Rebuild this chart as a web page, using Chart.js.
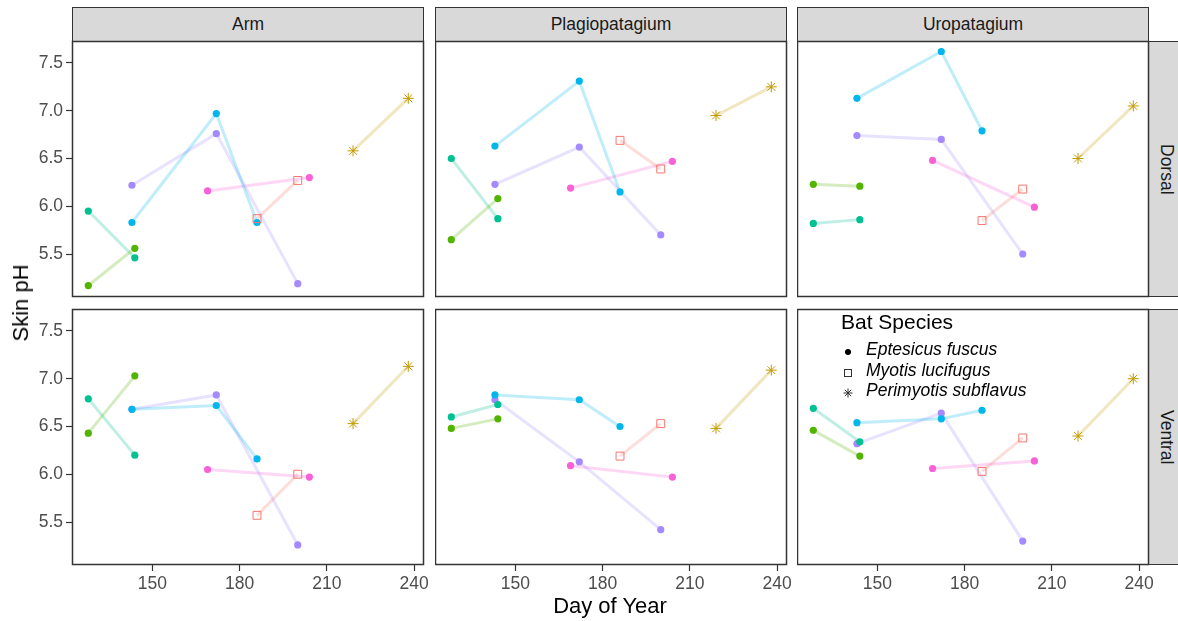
<!DOCTYPE html>
<html>
<head>
<meta charset="utf-8">
<script src="https://cdn.jsdelivr.net/npm/chart.js@4/dist/chart.umd.min.js"></script>
<style>
    body { margin: 0; background: #ffffff; }
    #figure {
        position: relative;
        width: 1178px;
        height: 621px;
        overflow: hidden;
        font-family: "Liberation Sans", Arial, sans-serif;
    }
    #figure canvas { position: absolute; }
    .strip {
        position: absolute;
        box-sizing: border-box;
        background: #d9d9d9;
        border: 1.5px solid #333333;
        color: #1a1a1a;
        font-size: 17.5px;
        display: flex;
        align-items: center;
        justify-content: center;
    }
    .strip.side span { writing-mode: vertical-rl; }
    .label { position: absolute; white-space: nowrap; line-height: 1; }
    .legend-key { position: absolute; }
</style>
</head>
<body>
<div id="figure"></div>
<script>
// facets
const regions = ['Arm', 'Plagiopatagium', 'Uropatagium'];
const surfaces = ['Dorsal', 'Ventral'];

// one entry per bat: id, species, colour and the days it was sampled
const batIds = ['M1', 'P1', 'E1', 'E2', 'E3', 'E4', 'E5'];
const batSpecies = ['Myotis lucifugus', 'Perimyotis subflavus', 'Eptesicus fuscus', 'Eptesicus fuscus',
    'Eptesicus fuscus', 'Eptesicus fuscus', 'Eptesicus fuscus'];
const batColors = ['#F8766D', '#C49A00', '#53B400', '#00C094', '#00B6EB', '#A58AFF', '#FB61D7'];
const batDays = [[186, 200], [219, 238], [128, 144], [128, 144], [143, 172, 186], [143, 172, 200], [169, 204]];

// skin pH per bat (same order as batIds), one list per region x surface
const armDorsal = [[5.87, 6.27], [6.58, 7.13], [5.17, 5.56], [5.95, 5.46], [5.83, 6.97, 5.83], [6.22, 6.76, 5.19], [6.16, 6.30]];
const plagioDorsal = [[6.69, 6.39], [6.95, 7.25], [5.65, 6.08], [6.50, 5.87], [6.63, 7.31, 6.15], [6.23, 6.62, 5.70], [6.19, 6.47]];
const uroDorsal = [[5.85, 6.18], [6.50, 7.05], [6.23, 6.21], [5.82, 5.86], [7.13, 7.62, 6.79], [6.74, 6.70, 5.50], [6.48, 5.99]];
const armVentral = [[5.57, 6.00], [6.53, 7.13], [6.43, 7.03], [6.79, 6.20], [6.68, 6.72, 6.16], [6.68, 6.83, 5.26], [6.05, 5.97]];
const plagioVentral = [[6.19, 6.53], [6.48, 7.09], [6.48, 6.58], [6.60, 6.73], [6.83, 6.78, 6.50], [6.78, 6.13, 5.42], [6.09, 5.97]];
const uroVentral = [[6.03, 6.38], [6.40, 7.00], [6.46, 6.19], [6.69, 6.34], [6.54, 6.58, 6.67], [6.32, 6.64, 5.30], [6.06, 6.14]];

const xTicks = [150, 180, 210, 240];
const yTicks = [5.5, 6.0, 6.5, 7.0, 7.5];
const speciesNames = ['Eptesicus fuscus', 'Myotis lucifugus', 'Perimyotis subflavus'];

const panelValues = [
    [armDorsal, plagioDorsal, uroDorsal],
    [armVentral, plagioVentral, uroVentral]
];

const speciesShape = {
    'Eptesicus fuscus': 'circle',
    'Myotis lucifugus': 'rect',
    'Perimyotis subflavus': 'star'
};

// panel geometry (page pixels)
const colLeft = [72, 435, 797];
const rowTop = [41, 309];
const panelW = 352;
const panelH = 256;
const yAxisW = 72;
const xAxisH = 40;
const padTop = 16;
const padRight = 16;
const padBottom = 14;
const xRange = [122.4, 243.4];
const yRange = [5.05, 7.73];

const fontFamily = '"Liberation Sans", Arial, sans-serif';
const figure = document.getElementById('figure');

function fade(hex, alpha) {
    let n = parseInt(hex.slice(1), 16);
    return 'rgba(' + [(n >> 16) & 255, (n >> 8) & 255, n & 255, alpha].join(', ') + ')';
}

function buildDatasets(values) {
    let datasets = [];
    for (let i = 0; i < batIds.length; i++) {
        let color = batColors[i];
        let shape = speciesShape[batSpecies[i]];
        let radius = 3.6;
        if (shape === 'rect') radius = 5.6;
        if (shape === 'star') radius = 5.5;
        datasets.push({
            label: batIds[i],
            data: batDays[i].map((d, j) => ({x: d, y: values[i][j]})),
            showLine: true,
            borderColor: fade(color, 0.25),
            borderWidth: 3,
            pointStyle: shape,
            pointRadius: radius,
            pointBorderWidth: shape === 'circle' ? 0 : 1,
            pointBorderColor: color,
            pointBackgroundColor: shape === 'rect' ? 'rgba(0,0,0,0)' : color
        });
    }
    return datasets;
}

// ggplot style box around each panel
const panelBorder = {
    id: 'panelBorder',
    afterDraw(chart) {
        let a = chart.chartArea;
        let ctx = chart.ctx;
        ctx.save();
        ctx.strokeStyle = '#333333';
        ctx.lineWidth = 1.5;
        ctx.strokeRect(a.left + 0.5, a.top + 0.5, a.right - a.left - 1, a.bottom - a.top - 1);
        ctx.restore();
    }
};

function axisStyle(show, ticks, range) {
    return {
        type: 'linear',
        display: show,
        min: range[0],
        max: range[1],
        afterBuildTicks: s => { s.ticks = ticks.map(v => ({value: v})); },
        grid: { drawOnChartArea: false, drawTicks: true, tickLength: 6, tickColor: '#333333', tickWidth: 1.2 },
        border: { display: false },
        ticks: {
            color: '#4d4d4d',
            padding: 3,
            maxRotation: 0,
            font: { family: fontFamily, size: 17.5 },
            callback: v => (Number.isInteger(v) && v > 100) ? String(v) : v.toFixed(1)
        }
    };
}

function drawPanel(row, col) {
    let leftW = col === 0 ? yAxisW : 0;
    let bottomH = row === 1 ? xAxisH : 0;
    let canvas = document.createElement('canvas');
    canvas.width = leftW + panelW + padRight;
    canvas.height = padTop + panelH + bottomH + padBottom;
    canvas.style.left = (colLeft[col] - leftW) + 'px';
    canvas.style.top = (rowTop[row] - padTop) + 'px';
    figure.appendChild(canvas);

    // hidden axes still get fitted, so pin them to zero size
    let xScale = axisStyle(row === 1, xTicks, xRange);
    xScale.afterFit = s => { s.height = bottomH; };
    let yScale = axisStyle(col === 0, yTicks, yRange);
    yScale.afterFit = s => { s.width = leftW; };

    return new Chart(canvas, {
        type: 'scatter',
        data: { datasets: buildDatasets(panelValues[row][col]) },
        options: {
            responsive: false,
            animation: false,
            events: [],
            layout: {
                autoPadding: false,
                padding: { top: padTop, right: padRight, bottom: padBottom, left: 0 }
            },
            scales: { x: xScale, y: yScale },
            plugins: { legend: { display: false }, tooltip: { enabled: false } }
        },
        plugins: [panelBorder]
    });
}

function addText(text, x, y, size, opts = {}) {
    let el = document.createElement('div');
    el.className = 'label';
    el.textContent = text;
    el.style.left = x + 'px';
    el.style.top = y + 'px';
    el.style.fontSize = size + 'px';
    el.style.color = opts.color || '#000000';
    if (opts.italic) el.style.fontStyle = 'italic';
    let shift = opts.align === 'left' ? 'translate(0, -50%)' : 'translate(-50%, -50%)';
    el.style.transform = shift + (opts.rotate ? ' rotate(' + opts.rotate + 'deg)' : '');
    figure.appendChild(el);
    return el;
}

function addStrip(text, left, top, width, height, side) {
    let el = document.createElement('div');
    el.className = 'strip' + (side ? ' side' : '');
    el.style.left = left + 'px';
    el.style.top = top + 'px';
    el.style.width = width + 'px';
    el.style.height = height + 'px';
    let span = document.createElement('span');
    span.textContent = text;
    el.appendChild(span);
    figure.appendChild(el);
}

// strips first so the canvases sit on top
for (let c = 0; c < regions.length; c++)
    addStrip(regions[c], colLeft[c], 7, panelW, 35, false);
for (let r = 0; r < surfaces.length; r++)
    addStrip(surfaces[r], colLeft[2] + panelW - 1, rowTop[r], 36, panelH, true);

for (let r = 0; r < surfaces.length; r++)
    for (let c = 0; c < regions.length; c++)
        drawPanel(r, c);

addText('Skin pH', 21, 303, 22, { rotate: -90 });
addText('Day of Year', 610, 606, 22);

// species legend inside the lower right panel
const legendKeys = [
    '<svg width="12" height="12"><circle cx="6" cy="6" r="3" fill="#000"/></svg>',
    '<svg width="12" height="12"><rect x="2.5" y="2.5" width="7" height="7" fill="none" stroke="#333" stroke-width="1"/></svg>',
    '<svg width="12" height="12"><path d="M6 1.5V10.5M1.5 6H10.5M2.8 2.8L9.2 9.2M9.2 2.8L2.8 9.2" stroke="#333" stroke-width="1"/></svg>'
];
addText('Bat Species', 841, 321, 21, { align: 'left' });
for (let i = 0; i < speciesNames.length; i++) {
    let cy = 350 + i * 20.5;
    let key = document.createElement('div');
    key.className = 'legend-key';
    key.innerHTML = legendKeys[i];
    key.style.left = '842px';
    key.style.top = (cy - 6) + 'px';
    figure.appendChild(key);
    addText(speciesNames[i], 866, cy, 17.5, { align: 'left', italic: true });
}
</script>
</body>
</html>
